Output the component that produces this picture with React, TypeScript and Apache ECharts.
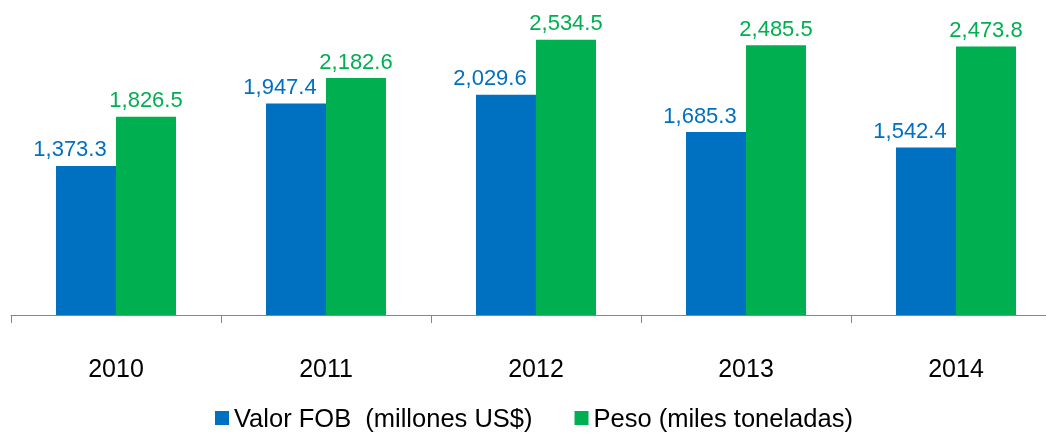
import React, { useEffect, useRef } from "react";
import * as echarts from "echarts";

const categories = ["2010", "2011", "2012", "2013", "2014"];
const valorFOB = [1373.3, 1947.4, 2029.6, 1685.3, 1542.4];
const peso = [1826.5, 2182.6, 2534.5, 2485.5, 2473.8];
const seriesNames = ["Valor FOB  (millones US$)", "Peso (miles toneladas)"];

const BLUE = "#0070C0";
const GREEN = "#00B050";
const FONT = "'Liberation Sans', Arial, sans-serif";

const fmt = (v: number) =>
  v.toLocaleString("en-US", { minimumFractionDigits: 1, maximumFractionDigits: 1 });

export default function App() {
  const ref = useRef<HTMLDivElement>(null);
  useEffect(() => {
    if (!ref.current) return;
    const chart = echarts.init(ref.current, undefined, { renderer: "svg" });
    chart.setOption({
      animation: false,
      textStyle: { fontFamily: FONT },
      grid: { left: 11, right: 0, top: 11, bottom: 118, containLabel: false },
      legend: {
        left: 215,
        top: 405,
        padding: 0,
        itemWidth: 14,
        itemHeight: 14,
        itemGap: 42,
        icon: "rect",
        textStyle: { fontSize: 25.5, color: "#000", fontFamily: FONT },
        data: seriesNames,
      },
      xAxis: {
        type: "category",
        data: categories,
        boundaryGap: true,
        axisLine: { show: true, lineStyle: { color: "#878787", width: 1 } },
        axisTick: { show: true, length: 8, lineStyle: { color: "#878787" } },
        axisLabel: { fontSize: 25, color: "#000", margin: 40, fontFamily: FONT },
      },
      yAxis: {
        type: "value",
        min: 0,
        max: 2800,
        show: false,
        splitLine: { show: false },
      },
      series: [
        {
          name: seriesNames[0],
          type: "bar",
          data: valorFOB,
          barWidth: 60,
          barGap: "0%",
          itemStyle: { color: BLUE },
          label: {
            show: true,
            position: "top",
            distance: 6,
            offset: [-16, 0],
            color: BLUE,
            fontSize: 22,
            fontFamily: FONT,
            formatter: (p: any) => fmt(p.value),
          },
        },
        {
          name: seriesNames[1],
          type: "bar",
          data: peso,
          barWidth: 60,
          barGap: "0%",
          itemStyle: { color: GREEN },
          label: {
            show: true,
            position: "top",
            distance: 6,
            color: GREEN,
            fontSize: 22,
            fontFamily: FONT,
            formatter: (p: any) => fmt(p.value),
          },
        },
      ],
    });
    return () => chart.dispose();
  }, []);
  return (
    <div
      ref={ref}
      style={{ position: "fixed", left: 0, top: 0, width: 1061, height: 433 }}
    />
  );
}
